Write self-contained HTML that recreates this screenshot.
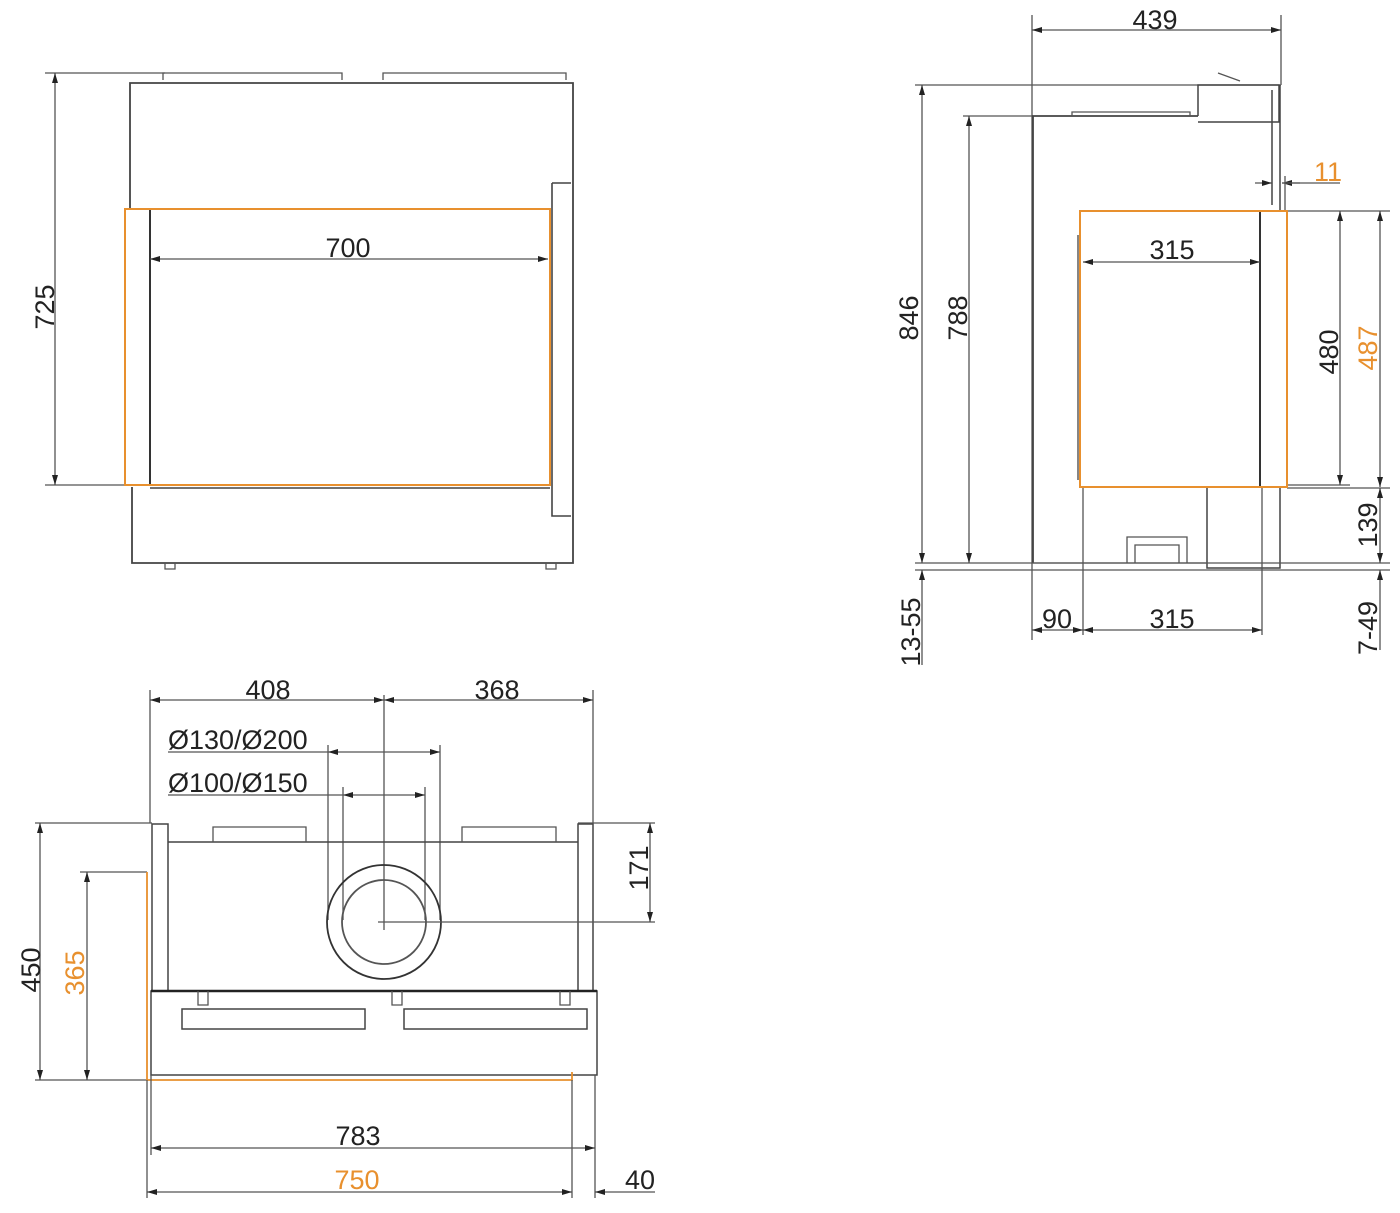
<!DOCTYPE html>
<html><head><meta charset="utf-8"><style>
html,body{margin:0;padding:0;background:#fff;}
svg{display:block;}
text{font-family:"Liberation Sans",sans-serif;font-size:27px;fill:#222;}
.o{fill:#e8902e;}
</style></head><body>
<svg width="1400" height="1213" viewBox="0 0 1400 1213" xmlns="http://www.w3.org/2000/svg">
<defs>
<marker id="a" viewBox="0 0 10 6" refX="10" refY="3" markerWidth="14" markerHeight="6" markerUnits="userSpaceOnUse" orient="auto-start-reverse"><path d="M0,0 L10,3 L0,6z" fill="#222"/></marker>
</defs>
<g stroke="#555" stroke-width="1.3" fill="none">
<!-- FRONT VIEW -->
<line x1="45" y1="73" x2="165" y2="73"/>
<line x1="45" y1="485" x2="125" y2="485"/>
<line x1="55" y1="73" x2="55" y2="485" marker-start="url(#a)" marker-end="url(#a)"/>
<path d="M163,80 V73 H342 V80 M383,80 V73 H566 V80"/>
<path d="M130,208 V83 H573 V563 H132 V487" stroke="#444" stroke-width="1.8"/>
<path d="M552,183 H571 M552,183 V516 H571" stroke="#444" stroke-width="1.6"/>
<line x1="150" y1="209" x2="150" y2="485" stroke="#333" stroke-width="2"/>
<line x1="150" y1="259" x2="548" y2="259" marker-start="url(#a)" marker-end="url(#a)"/>
<path d="M165,563 v6 h10 v-6 M546,563 v6 h10 v-6"/>
<path d="M125,209 H550 V485 H125 Z" stroke="#e8902e" stroke-width="2"/>
<line x1="150" y1="488" x2="550" y2="488" stroke="#444" stroke-width="1.5"/>

<!-- SIDE VIEW -->
<line x1="1032" y1="15" x2="1032" y2="640"/>
<line x1="1281" y1="15" x2="1281" y2="85"/>
<line x1="1032" y1="30" x2="1281" y2="30" marker-start="url(#a)" marker-end="url(#a)"/>
<line x1="915" y1="85" x2="1281" y2="85"/>
<line x1="963" y1="116" x2="1033" y2="116"/>
<line x1="922" y1="85" x2="922" y2="563" marker-start="url(#a)" marker-end="url(#a)"/>
<line x1="969" y1="116" x2="969" y2="563" marker-start="url(#a)" marker-end="url(#a)"/>
<path d="M1198,116 V85 H1279 V122 H1198" stroke="#444" stroke-width="1.5"/>
<line x1="1218" y1="73" x2="1240" y2="81"/>
<path d="M1033,563 V116 H1198" stroke="#444" stroke-width="1.8"/>
<path d="M1072,116 V112 H1190 V116"/>
<path d="M1280,85 V211 M1272,90 V205" stroke="#444" stroke-width="1.5"/>
<line x1="1255" y1="183" x2="1272" y2="183" marker-end="url(#a)"/>
<line x1="1300" y1="183" x2="1282" y2="183" marker-end="url(#a)"/>
<line x1="1282" y1="183" x2="1340" y2="183"/>
<line x1="1285" y1="176" x2="1285" y2="211"/>
<line x1="1260" y1="211" x2="1260" y2="487" stroke="#333" stroke-width="2"/>
<line x1="1083" y1="262" x2="1260" y2="262" marker-start="url(#a)" marker-end="url(#a)"/>
<line x1="1287" y1="211" x2="1390" y2="211"/>
<line x1="1287" y1="485" x2="1350" y2="485"/>
<line x1="1287" y1="488" x2="1390" y2="488"/>
<line x1="1340" y1="211" x2="1340" y2="485" marker-start="url(#a)" marker-end="url(#a)"/>
<line x1="1380" y1="211" x2="1380" y2="487" marker-start="url(#a)" marker-end="url(#a)"/>
<line x1="1380" y1="488" x2="1380" y2="563" marker-start="url(#a)" marker-end="url(#a)"/>
<path d="M1207,488 V568 H1280 V488" stroke="#444" stroke-width="1.5"/>
<path d="M1033,563 H1207"/>
<path d="M1127,563 V537 H1187 V563 M1135,563 V545 H1179 V563"/>
<line x1="915" y1="563" x2="1390" y2="563"/>
<line x1="915" y1="570" x2="1390" y2="570"/>
<line x1="1380" y1="650" x2="1380" y2="570" marker-end="url(#a)"/>
<line x1="922" y1="665" x2="922" y2="570" marker-end="url(#a)"/>
<line x1="1083" y1="488" x2="1083" y2="635"/>
<line x1="1262" y1="488" x2="1262" y2="635"/>
<line x1="1032" y1="630" x2="1083" y2="630" marker-start="url(#a)" marker-end="url(#a)"/>
<line x1="1083" y1="630" x2="1262" y2="630" marker-start="url(#a)" marker-end="url(#a)"/>
<path d="M1080,211 H1287 V487 H1080 Z" stroke="#e8902e" stroke-width="2"/>
<path d="M1078,235 V480" stroke="#444"/>

<!-- TOP VIEW -->
<line x1="150" y1="690" x2="150" y2="823"/>
<line x1="593" y1="690" x2="593" y2="823"/>
<line x1="384" y1="695" x2="384" y2="930"/>
<line x1="150" y1="700" x2="384" y2="700" marker-start="url(#a)" marker-end="url(#a)"/>
<line x1="384" y1="700" x2="593" y2="700" marker-start="url(#a)" marker-end="url(#a)"/>
<line x1="168" y1="752" x2="328" y2="752"/>
<line x1="328" y1="752" x2="440" y2="752" marker-start="url(#a)" marker-end="url(#a)"/>
<line x1="328" y1="745" x2="328" y2="920"/>
<line x1="440" y1="745" x2="440" y2="920"/>
<line x1="168" y1="795" x2="343" y2="795"/>
<line x1="343" y1="795" x2="425" y2="795" marker-start="url(#a)" marker-end="url(#a)"/>
<line x1="343" y1="787" x2="343" y2="920"/>
<line x1="425" y1="787" x2="425" y2="920"/>
<path d="M152,991 V824 H168 V991 M578,991 V824 H593 V991" stroke="#444" stroke-width="1.5"/>
<line x1="168" y1="842" x2="578" y2="842" stroke="#444" stroke-width="1.5"/>
<path d="M213,842 V827 H306 V842 M462,842 V827 H556 V842"/>
<circle cx="384" cy="922" r="57" stroke="#333" stroke-width="1.8"/>
<circle cx="384" cy="922" r="42" stroke="#555" stroke-width="1.8"/>
<line x1="378" y1="922" x2="655" y2="922"/>
<line x1="578" y1="823" x2="655" y2="823"/>
<line x1="650" y1="823" x2="650" y2="922" marker-start="url(#a)" marker-end="url(#a)"/>
<rect x="151" y="991" width="446" height="84" stroke="#444" stroke-width="1.5"/>
<line x1="151" y1="991" x2="597" y2="991" stroke="#222" stroke-width="2.5"/>
<rect x="182" y="1009" width="183" height="20" stroke="#444" stroke-width="1.5"/>
<rect x="404" y="1009" width="183" height="20" stroke="#444" stroke-width="1.5"/>
<path d="M198,991 v14 h10 v-14 M392,991 v14 h10 v-14 M560,991 v14 h10 v-14"/>
<line x1="35" y1="823" x2="152" y2="823"/>
<line x1="35" y1="1080" x2="147" y2="1080"/>
<line x1="80" y1="872" x2="147" y2="872"/>
<line x1="40" y1="823" x2="40" y2="1080" marker-start="url(#a)" marker-end="url(#a)"/>
<line x1="87" y1="872" x2="87" y2="1080" marker-start="url(#a)" marker-end="url(#a)"/>
<path d="M147,872 V1080 H572 V1072" stroke="#e8902e" stroke-width="1.8"/>
<line x1="147" y1="1080" x2="147" y2="1198"/>
<line x1="151" y1="1075" x2="151" y2="1155"/>
<line x1="572" y1="1080" x2="572" y2="1198"/>
<line x1="595" y1="1075" x2="595" y2="1198"/>
<line x1="151" y1="1148" x2="595" y2="1148" marker-start="url(#a)" marker-end="url(#a)"/>
<line x1="147" y1="1192" x2="572" y2="1192" marker-start="url(#a)" marker-end="url(#a)"/>
<line x1="655" y1="1192" x2="595" y2="1192" marker-end="url(#a)"/>
</g>

<text x="348" y="257" text-anchor="middle">700</text>
<text transform="translate(54,307) rotate(-90)" text-anchor="middle">725</text>
<text x="1155" y="29" text-anchor="middle">439</text>
<text transform="translate(918,318) rotate(-90)" text-anchor="middle">846</text>
<text transform="translate(967,318) rotate(-90)" text-anchor="middle">788</text>
<text x="1172" y="259" text-anchor="middle">315</text>
<text x="1328" y="181" text-anchor="middle" class="o">11</text>
<text transform="translate(1338,352) rotate(-90)" text-anchor="middle">480</text>
<text transform="translate(1377,348) rotate(-90)" text-anchor="middle" class="o">487</text>
<text transform="translate(1377,525) rotate(-90)" text-anchor="middle">139</text>
<text transform="translate(1377,628) rotate(-90)" text-anchor="middle">7-49</text>
<text transform="translate(920,632) rotate(-90)" text-anchor="middle">13-55</text>
<text x="1057" y="628" text-anchor="middle">90</text>
<text x="1172" y="628" text-anchor="middle">315</text>
<text x="268" y="699" text-anchor="middle">408</text>
<text x="497" y="699" text-anchor="middle">368</text>
<text x="168" y="749">Ø130/Ø200</text>
<text x="168" y="792">Ø100/Ø150</text>
<text transform="translate(648,868) rotate(-90)" text-anchor="middle">171</text>
<text transform="translate(40,970) rotate(-90)" text-anchor="middle">450</text>
<text transform="translate(84,973) rotate(-90)" text-anchor="middle" class="o">365</text>
<text x="358" y="1145" text-anchor="middle">783</text>
<text x="357" y="1189" text-anchor="middle" class="o">750</text>
<text x="640" y="1189" text-anchor="middle">40</text>
</svg>
</body></html>
